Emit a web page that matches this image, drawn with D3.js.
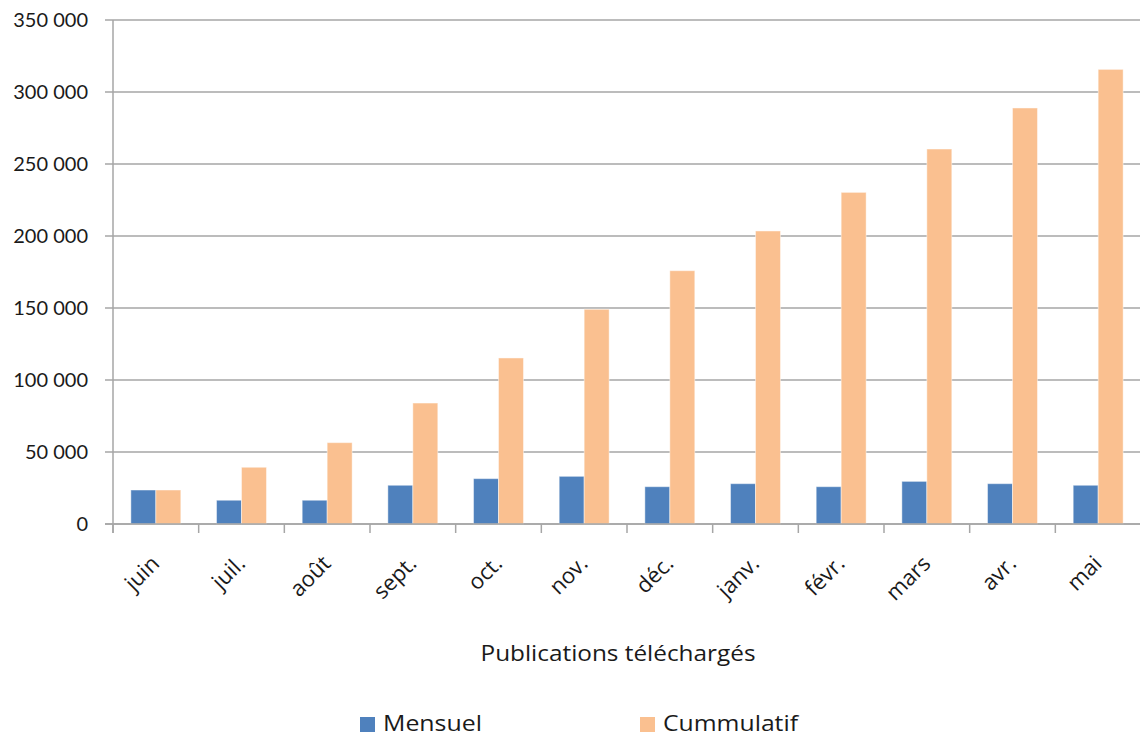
<!DOCTYPE html>
<html><head><meta charset="utf-8">
<script src="https://cdn.jsdelivr.net/npm/d3@7"></script>
<style>
html,body{margin:0;padding:0;background:#fff;}
svg{display:block;font-family:"Open Sans",Lato,sans-serif;}
</style></head>
<body>
<svg id="c" width="1140" height="736"></svg>
<script>
const categories = ["juin","juil.","août","sept.","oct.","nov.","déc.","janv.","févr.","mars","avr.","mai"];
const mensuel = [23600,16500,16500,26900,31500,33100,25900,28000,25900,29600,28000,26900];
const cummulatif = [23600,39400,56500,84000,115300,149100,175900,203500,230300,260400,288900,315700];
const yTicks = [0,50000,100000,150000,200000,250000,300000,350000];
const seriesNames = ["Mensuel","Cummulatif"];
const colors = ["#4F81BD","#FAC090"];
const axisTitle = "Publications téléchargés";

(function(){
const svg = d3.select("#c");
const pLeft = 113, pRight = 1141, pTop = 20, pBottom = 524;

const y = d3.scaleLinear().domain([0,350000]).range([pBottom, pTop]);
const x0 = d3.scaleBand().domain(categories).range([pLeft, pRight]).paddingInner(0.417).paddingOuter(0.2085);
const x1 = d3.scaleBand().domain(seriesNames).range([0, x0.bandwidth()]);

const fmt = v => d3.format(",")(v).replace(/,/g, " ");

svg.append("g").selectAll("line").data(yTicks).join("line")
  .attr("x1", 105).attr("x2", 1140)
  .attr("y1", d => y(d)).attr("y2", d => y(d))
  .attr("stroke", "#a6a6a6").attr("stroke-width", 1.5);

svg.append("g").selectAll("text").data(yTicks).join("text")
  .attr("x", 88).attr("y", d => y(d)).attr("dy", "0.35em")
  .attr("text-anchor", "end").attr("font-size", 20).attr("fill", "#1a1a1a")
  .style("font-family", "Lato, sans-serif")
  .text(fmt);

svg.append("line").attr("x1", pLeft).attr("x2", pLeft).attr("y1", pTop).attr("y2", pBottom + 9)
  .attr("stroke", "#a6a6a6").attr("stroke-width", 1.5);

const step = x0.step();
const bounds = d3.range(categories.length + 1).map(i => pLeft + i * step);
svg.append("g").selectAll("line").data(bounds).join("line")
  .attr("x1", d => d).attr("x2", d => d).attr("y1", pBottom).attr("y2", pBottom + 9)
  .attr("stroke", "#a6a6a6").attr("stroke-width", 1.5);

const data = categories.map((c, i) => ({c, vals: [mensuel[i], cummulatif[i]]}));
const g = svg.append("g").selectAll("g").data(data).join("g")
  .attr("transform", d => `translate(${x0(d.c)},0)`);
g.selectAll("rect").data(d => d.vals.map((v, j) => ({v, s: seriesNames[j], j}))).join("rect")
  .attr("x", d => x1(d.s)).attr("width", x1.bandwidth())
  .attr("y", d => y(d.v)).attr("height", d => pBottom - y(d.v))
  .attr("fill", d => colors[d.j])
  .attr("stroke", "rgba(255,255,255,0.45)").attr("stroke-width", 1);

svg.append("line").attr("x1", 105).attr("x2", 1140).attr("y1", pBottom).attr("y2", pBottom)
  .attr("stroke", "#a6a6a6").attr("stroke-width", 1.5);

svg.append("g").selectAll("text").data(categories).join("text")
  .attr("transform", d => `translate(${x0(d) + x0.bandwidth()/2 + 5},565) rotate(-45)`)
  .attr("text-anchor", "end").attr("font-size", 22).attr("fill", "#1a1a1a")
  .text(d => d);

svg.append("text").attr("x", 618).attr("y", 661).attr("text-anchor", "middle")
  .attr("font-size", 21).attr("fill", "#1a1a1a")
  .attr("textLength", 275).attr("lengthAdjust", "spacingAndGlyphs")
  .text(axisTitle);

const legX = [360, 640];
const legLen = [99, 135];
const lg = svg.append("g").selectAll("g").data(seriesNames).join("g")
  .attr("transform", (d, i) => `translate(${legX[i]},717)`);
lg.append("rect").attr("width", 15).attr("height", 15).attr("fill", (d, i) => colors[i]);
lg.append("text").attr("x", 23).attr("y", 14).attr("font-size", 21).attr("fill", "#1a1a1a")
  .attr("textLength", (d, i) => legLen[i]).attr("lengthAdjust", "spacingAndGlyphs")
  .text(d => d);
})();
</script>
</body></html>
